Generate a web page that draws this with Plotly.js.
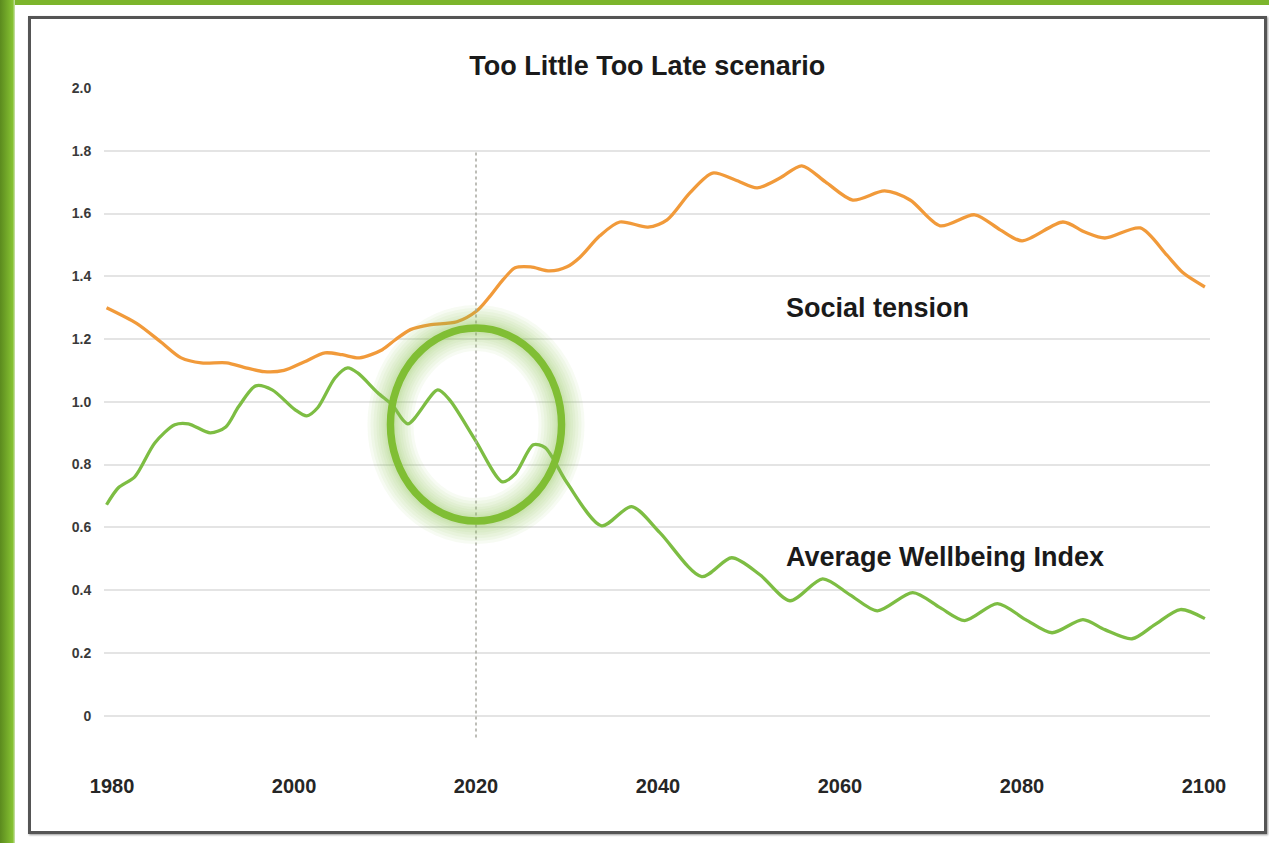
<!DOCTYPE html>
<html>
<head>
<meta charset="utf-8">
<script src="https://cdn.plot.ly/plotly-3.0.1.min.js"></script>
<style>
body{margin:0;background:#fff;}
#wrap{position:relative;width:1269px;height:843px;overflow:hidden;}
#plot{position:absolute;left:0;top:0;width:1269px;height:843px;}
.greenTop{position:absolute;left:0;top:0;width:1269px;height:5px;background:#7cb52c;}
.greenLeft{position:absolute;left:0;top:0;width:15px;height:843px;background:linear-gradient(to right,#5b8a1e,#86c232 85%,#cfe3b4);}
.frame{position:absolute;left:28px;top:16px;width:1233px;height:812px;border:3px solid #555;box-shadow:1px 1px 2px #999;pointer-events:none;}
</style>
</head>
<body>
<div id="wrap">
<div id="plot"></div>
<div class="greenTop"></div>
<div class="greenLeft"></div>
<div class="frame"></div>
</div>
<script>

const tensionYears = [1979.4,1982.7,1985.4,1987.6,1989.8,1992.6,1994.5,1996.7,1998.9,2001.1,
2003.4,2005.3,2007.2,2009.7,2011.1,2012.8,2014.9,2017.9,2020.1,2021.5,2023.0,2024.3,2026.0,
2028.1,2030.0,2031.4,2033.6,2035.8,2038.9,2041.0,2043.5,2046.0,2048.5,2050.9,2053.4,2055.8,
2058.4,2061.4,2064.9,2067.7,2071.0,2074.8,2077.6,2080.0,2084.5,2086.9,2089.1,2093.0,2095.9,
2097.7,2100.1]
const tension = [1.30,1.25,1.19,1.14,1.124,1.124,1.11,1.096,1.10,1.127,
1.156,1.15,1.14,1.166,1.197,1.23,1.245,1.255,1.29,1.335,1.39,1.427,1.43,
1.417,1.43,1.46,1.529,1.573,1.557,1.58,1.666,1.729,1.707,1.682,1.713,1.752,
1.701,1.643,1.672,1.643,1.561,1.596,1.548,1.513,1.573,1.541,1.522,1.554,1.468,
1.411,1.366]

const wellbeingYears = [1979.4,1980.7,1982.5,1984.7,1986.9,1988.4,1990.8,1992.5,1993.9,1995.8,
1997.6,2000.1,2001.4,2002.6,2004.5,2005.9,2007.0,2009.2,2010.8,2012.5,2015.8,2017.1,2019.9,
2022.9,2024.3,2026.3,2027.6,2030.0,2033.8,2037.1,2040.2,2044.8,2048.1,2051.2,2054.5,2058.1,
2061.1,2064.1,2068.0,2071.0,2073.7,2077.3,2080.4,2083.3,2086.7,2089.1,2092.1,2094.6,2097.4,
2100.1]
const wellbeing = [0.672,0.726,0.761,0.869,0.927,0.93,0.901,0.92,0.984,1.051,
1.038,0.975,0.955,0.981,1.076,1.108,1.092,1.029,0.99,0.93,1.038,1.006,0.879,
0.745,0.77,0.863,0.854,0.742,0.605,0.666,0.583,0.443,0.503,0.449,0.366,0.436,
0.385,0.334,0.392,0.344,0.303,0.357,0.306,0.264,0.306,0.274,0.245,0.29,0.338,
0.309]

const yTicks = [0,0.2,0.4,0.6,0.8,1.0,1.2,1.4,1.6,1.8,2.0]
const yTickText = ["0","0.2","0.4","0.6","0.8","1.0","1.2","1.4","1.6","1.8","2.0"]
const xTicks = [1980,2000,2020,2040,2060,2080,2100]

const FONT = "Liberation Sans, Arial, Helvetica, sans-serif"
const ORANGE = "#f19a3a"
const GREEN = "#7dbd43"

const trace1={
x:tensionYears,
y:tension,
type:"scatter",
mode:"lines",
name:"Social tension",
line:{color:ORANGE,width:3.3,shape:"spline",smoothing:0.8}
}

const trace2={
x:wellbeingYears,
y:wellbeing,
type:"scatter",
mode:"lines",
name:"Average Wellbeing Index",
line:{color:GREEN,width:3.3,shape:"spline",smoothing:0.8}
}

// soft glow ring around the 2020 turning point
const ring = {x0:2010.6,x1:2029.4,y0:0.62,y1:1.235}
const glowWidths = [46,40,34,28,23,18,14,11]
const glow = glowWidths.map(w=>({
type:"circle",xref:"x",yref:"y",
x0:ring.x0,x1:ring.x1,y0:ring.y0,y1:ring.y1,
line:{color:"rgba(140,196,80,0.07)",width:w}
}))

const shapes = [
{type:"line",xref:"x",yref:"y",x0:2020,x1:2020,y0:-0.07,y1:1.8,
line:{color:"#a8a8a0",width:1.5,dash:"dot"}},
...glow,
{type:"circle",xref:"x",yref:"y",
x0:ring.x0,x1:ring.x1,y0:ring.y0,y1:ring.y1,
line:{color:"#80be34",width:7.5}}
]

Plotly.newPlot(
"plot",
[trace1,trace2],
{
width:1269,
height:843,
paper_bgcolor:"#fff",
plot_bgcolor:"#fff",
showlegend:false,
margin:{l:104,r:59,t:88,b:95.6},
title:{
text:"Too Little Too Late scenario",
font:{family:FONT,size:27,color:"#1a1a1a",weight:"bold"},
xref:"container",x:0.51,xanchor:"center",
yref:"container",y:1-66/843,yanchor:"middle"
},
xaxis:{
range:[1979.12,2100.66],
tickvals:xTicks,
ticks:"outside",ticklen:21,tickcolor:"rgba(0,0,0,0)",
showgrid:false,zeroline:false,showline:false,
tickfont:{family:FONT,size:20,color:"#262626",weight:"bold"}
},
yaxis:{
range:[-0.1,2.0],
tickvals:yTicks,
ticktext:yTickText,
ticks:"outside",ticklen:9,tickcolor:"rgba(0,0,0,0)",
showgrid:true,gridcolor:"#e4e4e4",gridwidth:2,
zeroline:false,showline:false,
tickfont:{family:FONT,size:14,color:"#3a3a3a",weight:"bold"}
},
shapes:shapes,
annotations:[
{text:"Social tension",xref:"x",yref:"y",x:2053.8,y:1.30,xanchor:"left",yanchor:"middle",
showarrow:false,font:{family:FONT,size:27,color:"#1a1a1a",weight:"bold"}},
{text:"Average Wellbeing Index",xref:"x",yref:"y",x:2053.8,y:0.505,xanchor:"left",yanchor:"middle",
showarrow:false,font:{family:FONT,size:27,color:"#1a1a1a",weight:"bold"}}
]
},
{staticPlot:true}
)

</script>
</body>
</html>
